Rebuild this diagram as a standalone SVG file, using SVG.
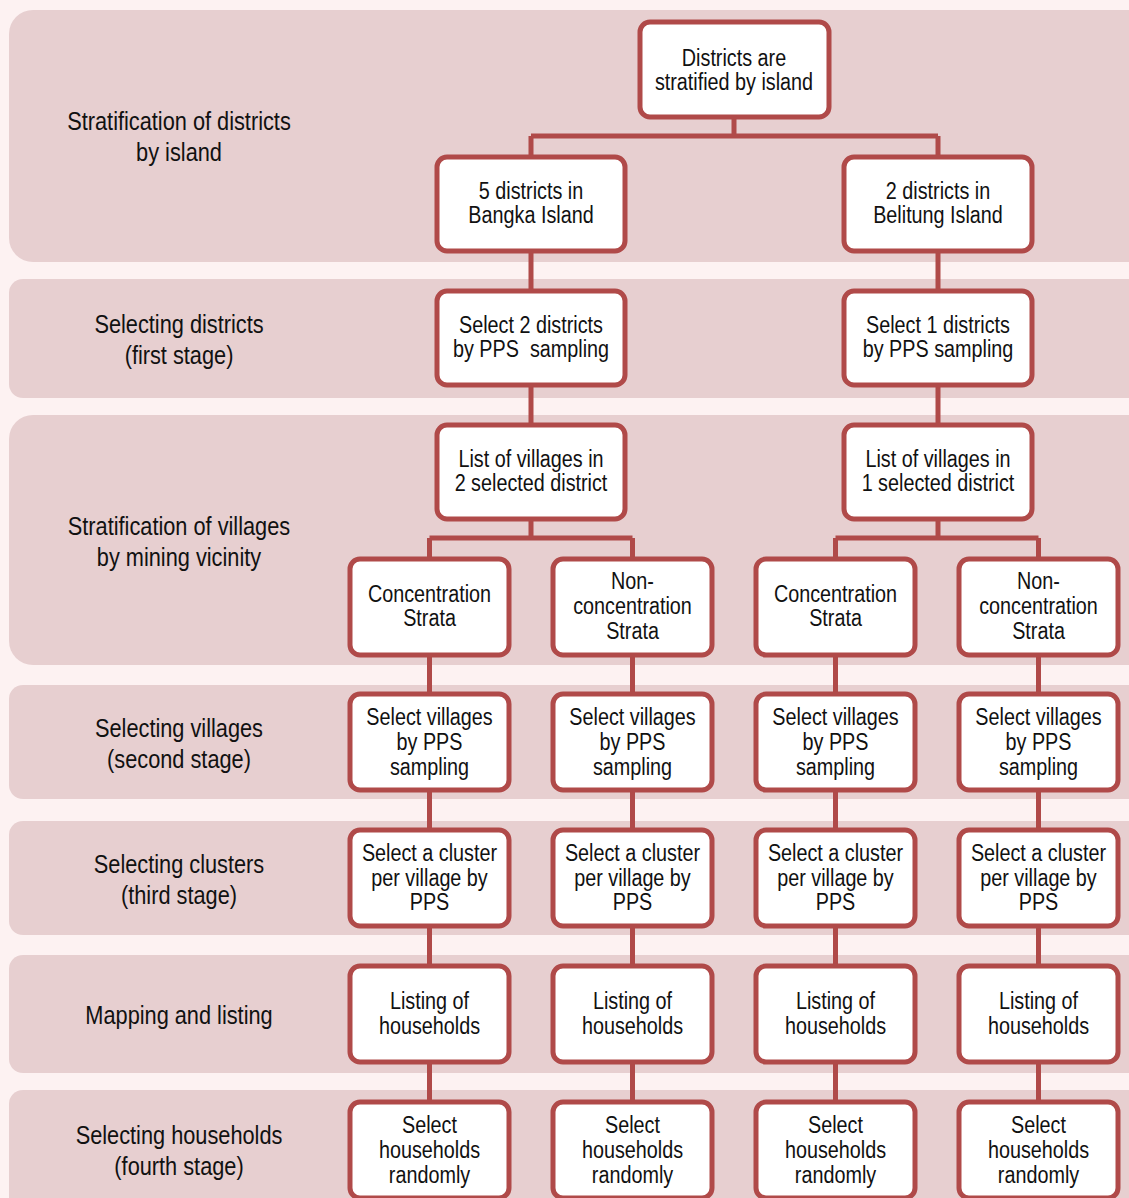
<svg xmlns="http://www.w3.org/2000/svg" width="1129" height="1198" viewBox="0 0 1129 1198">
  <style>
    .band { fill: #e7cfd0; }
    .box { fill: #ffffff; stroke: #b04a49; stroke-width: 5; }
    .wire { fill: none; stroke: #b04a49; stroke-width: 5; }
    text { font-family: "Liberation Sans", Arial, sans-serif; fill: #111111; text-anchor: middle; }
    .lbl { font-size: 25px; }
    .nd { font-size: 23px; }
  </style>
  <rect width="1129" height="1198" fill="#fdf2f2"/>

  <!-- stage bands -->
  <g id="bands">
    <rect class="band" x="9" y="10" width="1150" height="252" rx="24"/>
    <rect class="band" x="9" y="279" width="1150" height="119" rx="14"/>
    <rect class="band" x="9" y="415" width="1150" height="250" rx="24"/>
    <rect class="band" x="9" y="685" width="1150" height="114" rx="14"/>
    <rect class="band" x="9" y="821" width="1150" height="114" rx="14"/>
    <rect class="band" x="9" y="955" width="1150" height="118" rx="14"/>
    <rect class="band" x="9" y="1090" width="1150" height="140" rx="14"/>
  </g>

  <!-- stage labels (narrowed sans) -->
  <g id="labels">
    <text class="lbl" transform="matrix(0.87 0 0 1 179 0)" y="130">Stratification of districts</text>
    <text class="lbl" transform="matrix(0.87 0 0 1 179 0)" y="161">by island</text>
    <text class="lbl" transform="matrix(0.87 0 0 1 179 0)" y="333">Selecting districts</text>
    <text class="lbl" transform="matrix(0.87 0 0 1 179 0)" y="364">(first stage)</text>
    <text class="lbl" transform="matrix(0.87 0 0 1 179 0)" y="535">Stratification of villages</text>
    <text class="lbl" transform="matrix(0.87 0 0 1 179 0)" y="566">by mining vicinity</text>
    <text class="lbl" transform="matrix(0.87 0 0 1 179 0)" y="737">Selecting villages</text>
    <text class="lbl" transform="matrix(0.87 0 0 1 179 0)" y="768">(second stage)</text>
    <text class="lbl" transform="matrix(0.87 0 0 1 179 0)" y="873">Selecting clusters</text>
    <text class="lbl" transform="matrix(0.87 0 0 1 179 0)" y="904">(third stage)</text>
    <text class="lbl" transform="matrix(0.87 0 0 1 179 0)" y="1024">Mapping and listing</text>
    <text class="lbl" transform="matrix(0.87 0 0 1 179 0)" y="1144">Selecting households</text>
    <text class="lbl" transform="matrix(0.87 0 0 1 179 0)" y="1175">(fourth stage)</text>
  </g>

  <!-- connectors -->
  <g id="connectors">
    <path class="wire" d="M734 118 V136 M531 136 H938 M531 136 V155 M938 136 V155"/>
    <path class="wire" d="M531 252 V289 M938 252 V289"/>
    <path class="wire" d="M531 386 V423 M938 386 V423"/>
    <path class="wire" d="M531 520 V538 M429.5 538 H632.5 M429.5 538 V557 M632.5 538 V557"/>
    <path class="wire" d="M938 520 V538 M835.5 538 H1038.5 M835.5 538 V557 M1038.5 538 V557"/>
    <path class="wire" d="M429.5 657 V1100 M632.5 657 V1100 M835.5 657 V1100 M1038.5 657 V1100"/>
  </g>

  <!-- level 1 -->
  <g id="n-districts">
    <rect class="box" x="640" y="22" width="189" height="95" rx="10"/>
    <text class="nd" transform="matrix(0.86 0 0 1 734 0)" y="66">Districts are</text>
    <text class="nd" transform="matrix(0.86 0 0 1 734 0)" y="90">stratified by island</text>
  </g>

  <!-- level 2 -->
  <g id="n-bangka">
    <rect class="box" x="437" y="157" width="188" height="94" rx="10"/>
    <text class="nd" transform="matrix(0.86 0 0 1 531 0)" y="199">5 districts in</text>
    <text class="nd" transform="matrix(0.86 0 0 1 531 0)" y="223">Bangka Island</text>
  </g>
  <g id="n-belitung">
    <rect class="box" x="844" y="157" width="188" height="94" rx="10"/>
    <text class="nd" transform="matrix(0.86 0 0 1 938 0)" y="199">2 districts in</text>
    <text class="nd" transform="matrix(0.86 0 0 1 938 0)" y="223">Belitung Island</text>
  </g>

  <!-- first stage -->
  <g id="n-select-bangka">
    <rect class="box" x="437" y="291" width="188" height="94" rx="10"/>
    <text class="nd" transform="matrix(0.86 0 0 1 531 0)" y="333">Select 2 districts</text>
    <text class="nd" transform="matrix(0.86 0 0 1 531 0)" y="357" xml:space="preserve">by PPS  sampling</text>
  </g>
  <g id="n-select-belitung">
    <rect class="box" x="844" y="291" width="188" height="94" rx="10"/>
    <text class="nd" transform="matrix(0.86 0 0 1 938 0)" y="333">Select 1 districts</text>
    <text class="nd" transform="matrix(0.86 0 0 1 938 0)" y="357">by PPS sampling</text>
  </g>

  <!-- village lists -->
  <g id="n-villages-bangka">
    <rect class="box" x="437" y="425" width="188" height="94" rx="10"/>
    <text class="nd" transform="matrix(0.86 0 0 1 531 0)" y="467">List of villages in</text>
    <text class="nd" transform="matrix(0.86 0 0 1 531 0)" y="491">2 selected district</text>
  </g>
  <g id="n-villages-belitung">
    <rect class="box" x="844" y="425" width="188" height="94" rx="10"/>
    <text class="nd" transform="matrix(0.86 0 0 1 938 0)" y="467">List of villages in</text>
    <text class="nd" transform="matrix(0.86 0 0 1 938 0)" y="491">1 selected district</text>
  </g>

  <!-- strata -->
  <g id="n-strata-1">
    <rect class="box" x="350" y="559" width="159" height="96" rx="10"/>
    <text class="nd" transform="matrix(0.86 0 0 1 429.5 0)" y="602">Concentration</text>
    <text class="nd" transform="matrix(0.86 0 0 1 429.5 0)" y="626">Strata</text>
  </g>
  <g id="n-strata-2">
    <rect class="box" x="553" y="559" width="159" height="96" rx="10"/>
    <text class="nd" transform="matrix(0.86 0 0 1 632.5 0)" y="589">Non-</text>
    <text class="nd" transform="matrix(0.86 0 0 1 632.5 0)" y="614">concentration</text>
    <text class="nd" transform="matrix(0.86 0 0 1 632.5 0)" y="639">Strata</text>
  </g>
  <g id="n-strata-3">
    <rect class="box" x="756" y="559" width="159" height="96" rx="10"/>
    <text class="nd" transform="matrix(0.86 0 0 1 835.5 0)" y="602">Concentration</text>
    <text class="nd" transform="matrix(0.86 0 0 1 835.5 0)" y="626">Strata</text>
  </g>
  <g id="n-strata-4">
    <rect class="box" x="959" y="559" width="159" height="96" rx="10"/>
    <text class="nd" transform="matrix(0.86 0 0 1 1038.5 0)" y="589">Non-</text>
    <text class="nd" transform="matrix(0.86 0 0 1 1038.5 0)" y="614">concentration</text>
    <text class="nd" transform="matrix(0.86 0 0 1 1038.5 0)" y="639">Strata</text>
  </g>

  <!-- second stage -->
  <g id="n-villages-1">
    <rect class="box" x="350" y="694" width="159" height="96" rx="10"/>
    <text class="nd" transform="matrix(0.86 0 0 1 429.5 0)" y="725">Select villages</text>
    <text class="nd" transform="matrix(0.86 0 0 1 429.5 0)" y="750">by PPS</text>
    <text class="nd" transform="matrix(0.86 0 0 1 429.5 0)" y="775">sampling</text>
  </g>
  <g id="n-villages-2">
    <rect class="box" x="553" y="694" width="159" height="96" rx="10"/>
    <text class="nd" transform="matrix(0.86 0 0 1 632.5 0)" y="725">Select villages</text>
    <text class="nd" transform="matrix(0.86 0 0 1 632.5 0)" y="750">by PPS</text>
    <text class="nd" transform="matrix(0.86 0 0 1 632.5 0)" y="775">sampling</text>
  </g>
  <g id="n-villages-3">
    <rect class="box" x="756" y="694" width="159" height="96" rx="10"/>
    <text class="nd" transform="matrix(0.86 0 0 1 835.5 0)" y="725">Select villages</text>
    <text class="nd" transform="matrix(0.86 0 0 1 835.5 0)" y="750">by PPS</text>
    <text class="nd" transform="matrix(0.86 0 0 1 835.5 0)" y="775">sampling</text>
  </g>
  <g id="n-villages-4">
    <rect class="box" x="959" y="694" width="159" height="96" rx="10"/>
    <text class="nd" transform="matrix(0.86 0 0 1 1038.5 0)" y="725">Select villages</text>
    <text class="nd" transform="matrix(0.86 0 0 1 1038.5 0)" y="750">by PPS</text>
    <text class="nd" transform="matrix(0.86 0 0 1 1038.5 0)" y="775">sampling</text>
  </g>

  <!-- third stage -->
  <g id="n-cluster-1">
    <rect class="box" x="350" y="830" width="159" height="96" rx="10"/>
    <text class="nd" transform="matrix(0.86 0 0 1 429.5 0)" y="861">Select a cluster</text>
    <text class="nd" transform="matrix(0.86 0 0 1 429.5 0)" y="886">per village by</text>
    <text class="nd" transform="matrix(0.86 0 0 1 429.5 0)" y="910">PPS</text>
  </g>
  <g id="n-cluster-2">
    <rect class="box" x="553" y="830" width="159" height="96" rx="10"/>
    <text class="nd" transform="matrix(0.86 0 0 1 632.5 0)" y="861">Select a cluster</text>
    <text class="nd" transform="matrix(0.86 0 0 1 632.5 0)" y="886">per village by</text>
    <text class="nd" transform="matrix(0.86 0 0 1 632.5 0)" y="910">PPS</text>
  </g>
  <g id="n-cluster-3">
    <rect class="box" x="756" y="830" width="159" height="96" rx="10"/>
    <text class="nd" transform="matrix(0.86 0 0 1 835.5 0)" y="861">Select a cluster</text>
    <text class="nd" transform="matrix(0.86 0 0 1 835.5 0)" y="886">per village by</text>
    <text class="nd" transform="matrix(0.86 0 0 1 835.5 0)" y="910">PPS</text>
  </g>
  <g id="n-cluster-4">
    <rect class="box" x="959" y="830" width="159" height="96" rx="10"/>
    <text class="nd" transform="matrix(0.86 0 0 1 1038.5 0)" y="861">Select a cluster</text>
    <text class="nd" transform="matrix(0.86 0 0 1 1038.5 0)" y="886">per village by</text>
    <text class="nd" transform="matrix(0.86 0 0 1 1038.5 0)" y="910">PPS</text>
  </g>

  <!-- listing -->
  <g id="n-listing-1">
    <rect class="box" x="350" y="966" width="159" height="96" rx="10"/>
    <text class="nd" transform="matrix(0.86 0 0 1 429.5 0)" y="1009">Listing of</text>
    <text class="nd" transform="matrix(0.86 0 0 1 429.5 0)" y="1034">households</text>
  </g>
  <g id="n-listing-2">
    <rect class="box" x="553" y="966" width="159" height="96" rx="10"/>
    <text class="nd" transform="matrix(0.86 0 0 1 632.5 0)" y="1009">Listing of</text>
    <text class="nd" transform="matrix(0.86 0 0 1 632.5 0)" y="1034">households</text>
  </g>
  <g id="n-listing-3">
    <rect class="box" x="756" y="966" width="159" height="96" rx="10"/>
    <text class="nd" transform="matrix(0.86 0 0 1 835.5 0)" y="1009">Listing of</text>
    <text class="nd" transform="matrix(0.86 0 0 1 835.5 0)" y="1034">households</text>
  </g>
  <g id="n-listing-4">
    <rect class="box" x="959" y="966" width="159" height="96" rx="10"/>
    <text class="nd" transform="matrix(0.86 0 0 1 1038.5 0)" y="1009">Listing of</text>
    <text class="nd" transform="matrix(0.86 0 0 1 1038.5 0)" y="1034">households</text>
  </g>

  <!-- fourth stage -->
  <g id="n-households-1">
    <rect class="box" x="350" y="1102" width="159" height="96" rx="10"/>
    <text class="nd" transform="matrix(0.86 0 0 1 429.5 0)" y="1133">Select</text>
    <text class="nd" transform="matrix(0.86 0 0 1 429.5 0)" y="1158">households</text>
    <text class="nd" transform="matrix(0.86 0 0 1 429.5 0)" y="1183">randomly</text>
  </g>
  <g id="n-households-2">
    <rect class="box" x="553" y="1102" width="159" height="96" rx="10"/>
    <text class="nd" transform="matrix(0.86 0 0 1 632.5 0)" y="1133">Select</text>
    <text class="nd" transform="matrix(0.86 0 0 1 632.5 0)" y="1158">households</text>
    <text class="nd" transform="matrix(0.86 0 0 1 632.5 0)" y="1183">randomly</text>
  </g>
  <g id="n-households-3">
    <rect class="box" x="756" y="1102" width="159" height="96" rx="10"/>
    <text class="nd" transform="matrix(0.86 0 0 1 835.5 0)" y="1133">Select</text>
    <text class="nd" transform="matrix(0.86 0 0 1 835.5 0)" y="1158">households</text>
    <text class="nd" transform="matrix(0.86 0 0 1 835.5 0)" y="1183">randomly</text>
  </g>
  <g id="n-households-4">
    <rect class="box" x="959" y="1102" width="159" height="96" rx="10"/>
    <text class="nd" transform="matrix(0.86 0 0 1 1038.5 0)" y="1133">Select</text>
    <text class="nd" transform="matrix(0.86 0 0 1 1038.5 0)" y="1158">households</text>
    <text class="nd" transform="matrix(0.86 0 0 1 1038.5 0)" y="1183">randomly</text>
  </g>
</svg>
